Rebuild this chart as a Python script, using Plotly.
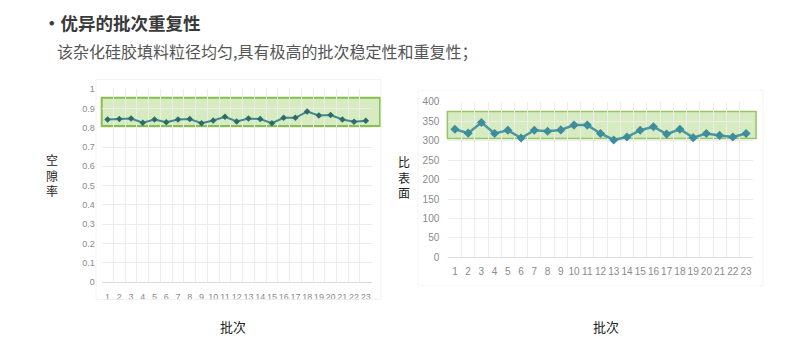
import plotly.graph_objects as go

batches = [str(i) for i in range(1, 24)]
porosity = [0.843, 0.845, 0.848, 0.826, 0.843, 0.829, 0.843, 0.845, 0.824, 0.838,
            0.857, 0.833, 0.848, 0.845, 0.824, 0.852, 0.852, 0.884, 0.864, 0.866,
            0.843, 0.831, 0.836]
surface = [329.5, 319.5, 346.9, 318.7, 327, 307, 327, 324.5, 327.8, 340.2,
           340.2, 318.7, 302, 309.5, 327, 336, 317, 329.5, 307.9, 318.7,
           313.7, 309.5, 318.7]
porosity_band = [0.809, 0.956]
surface_band = [306, 375]

title = "优异的批次重复性"
subtitle = "该杂化硅胶填料粒径均匀,具有极高的批次稳定性和重复性；"
ytitle_left = "空隙率"
ytitle_right = "比表面"
xtitle = "批次"

W, H = 800, 347
def dx(a, b):
    return [a / W, b / W]
def dy(top, bottom):
    return [1 - bottom / H, 1 - top / H]

fig = go.Figure()
fig.add_trace(go.Scatter(
    x=batches, y=porosity, xaxis="x", yaxis="y", mode="lines+markers",
    line=dict(color="#3f8a8c", width=2),
    marker=dict(symbol="diamond", size=5, color="#2d6a6c"),
    showlegend=False))
fig.add_trace(go.Scatter(
    x=batches, y=surface, xaxis="x2", yaxis="y2", mode="lines+markers",
    line=dict(color="#4a96a3", width=2.5),
    marker=dict(symbol="diamond", size=7, color="#3e8c9c"),
    showlegend=False))

tickfont = dict(family="Liberation Sans Narrow, Liberation Sans, sans-serif", size=9, color="#8a8a8a")
tickfont2 = dict(family="Liberation Sans Narrow, Liberation Sans, sans-serif", size=10, color="#8a8a8a")
grid = "#ececec"

fig.update_layout(
    width=W, height=H, margin=dict(l=0, r=0, t=0, b=0),
    paper_bgcolor="white", plot_bgcolor="white",
    xaxis=dict(domain=dx(101.7, 371.7), type="category", tickson="boundaries",
               range=[-0.5, 22.5], showgrid=True, gridcolor=grid, gridwidth=1,
               ticks="", showline=True, linecolor="#dcdcdc", linewidth=1, tickangle=0,
               tickfont=tickfont, ticklabelstandoff=6, anchor="y", zeroline=False),
    yaxis=dict(domain=dy(87, 286), range=[0, 1], dtick=0.1, showgrid=True,
               gridcolor=grid, tickfont=tickfont, ticks="", zeroline=False,
               tickformat="~g", ticklabelstandoff=6, anchor="x"),
    xaxis2=dict(domain=dx(448.3, 752.7), type="category", tickson="boundaries",
                range=[-0.5, 22.5], showgrid=True, gridcolor=grid, gridwidth=1,
                ticks="", showline=True, linecolor="#dcdcdc", linewidth=1, tickangle=0,
                tickfont=tickfont2, ticklabelstandoff=5, anchor="y2", zeroline=False),
    yaxis2=dict(domain=dy(100, 260.7), range=[0, 400], dtick=50, showgrid=True,
                gridcolor=grid, tickfont=tickfont2, ticks="", zeroline=False,
                ticklabelstandoff=8, anchor="x2"),
    font=dict(family="Noto Sans CJK SC, sans-serif"),
)

shapes = [
    dict(type="rect", xref="x domain", yref="y", x0=0, x1=1.031,
         y0=porosity_band[0], y1=porosity_band[1],
         fillcolor="rgba(165,210,115,0.45)", line=dict(color="#86bf50", width=2), layer="below"),
    dict(type="rect", xref="x2 domain", yref="y2", x0=-0.003, x1=1.011,
         y0=surface_band[0], y1=surface_band[1],
         fillcolor="rgba(165,210,115,0.45)", line=dict(color="#93c565", width=1.5), layer="below"),
    dict(type="rect", xref="paper", yref="paper", x0=96 / W, x1=381 / W,
         y0=1 - 304 / H, y1=1 - 77 / H, line=dict(color="#f2f2f2", width=1)),
    dict(type="rect", xref="paper", yref="paper", x0=418 / W, x1=763 / W,
         y0=1 - 290 / H, y1=1 - 88 / H, line=dict(color="#f4f4f4", width=1)),
]
fig.update_layout(shapes=shapes)

ann = []
ann.append(dict(xref="paper", yref="paper", x=41 / W, y=1 - 18 / H, xanchor="left", yanchor="middle",
                text="<b>•</b><b>" + title + "</b>", showarrow=False,
                font=dict(size=17.5, color="#3a3a3a", family="Noto Sans CJK SC")))
ann.append(dict(xref="paper", yref="paper", x=55 / W, y=1 - 47 / H, xanchor="left", yanchor="middle",
                text=subtitle, showarrow=False,
                font=dict(size=16, color="#555555", family="Noto Sans CJK SC")))
ann.append(dict(xref="paper", yref="paper", x=52 / W, y=1 - 176 / H,
                xanchor="center", yanchor="middle", text="<br>".join(ytitle_left), showarrow=False,
                font=dict(size=12, color="#222222", family="Noto Sans CJK SC")))
ann.append(dict(xref="paper", yref="paper", x=404 / W, y=1 - 178 / H,
                xanchor="center", yanchor="middle", text="<br>".join(ytitle_right), showarrow=False,
                font=dict(size=12, color="#222222", family="Noto Sans CJK SC")))
ann.append(dict(xref="paper", yref="paper", x=233 / W, y=1 - 332 / H, xanchor="center", yanchor="middle",
                text=xtitle, showarrow=False,
                font=dict(size=13, color="#222222", family="Noto Sans CJK SC")))
ann.append(dict(xref="paper", yref="paper", x=606 / W, y=1 - 332 / H, xanchor="center", yanchor="middle",
                text=xtitle, showarrow=False,
                font=dict(size=13, color="#222222", family="Noto Sans CJK SC")))
fig.update_layout(annotations=ann)

fig.write_html("out.html")
